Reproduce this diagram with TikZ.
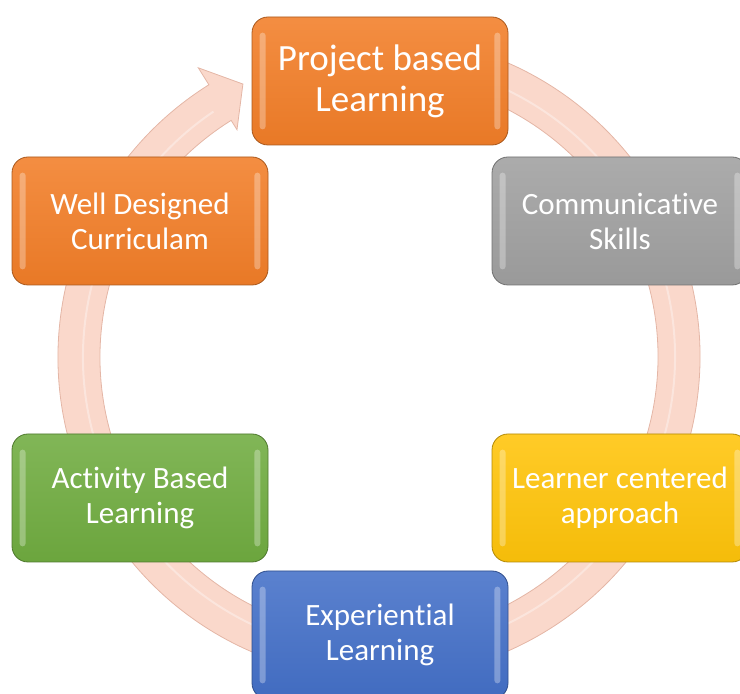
\documentclass[tikz,border=0pt]{standalone}
\usepackage{fontspec}
\setmainfont{Carlito}[Ligatures={NoCommon,NoContextual}]
\usepackage{tikz}
\usetikzlibrary{positioning}

\definecolor{pblorange}{RGB}{242,126,40}
\definecolor{commgray}{RGB}{160,160,160}
\definecolor{lcagold}{RGB}{255,196,10}
\definecolor{expblue}{RGB}{68,112,200}
\definecolor{ablgreen}{RGB}{112,172,64}
\definecolor{ringpink}{RGB}{250,216,203}
\definecolor{ringedge}{RGB}{228,182,166}

\tikzset{
  topic/.style={rectangle, rounded corners=16pt, minimum width=256pt, minimum height=128pt,
    draw=#1!70!black, line width=.8pt, top color=#1!88!white, bottom color=#1!96!black,
    text=white, align=center, inner sep=0pt, font=\fontsize{31}{35}\selectfont},
  gloss/.style={white, opacity=.3, rounded corners=3pt}
}

\begin{document}
\begin{tikzpicture}[x=1pt,y=1pt]
  \useasboundingbox (0,0) rectangle (740,694);
  \coordinate (hub) at (379,337);
  % circular arrow behind the boxes
  \begin{scope}[shift={(hub)}]
    \filldraw[fill=ringpink, draw=ringedge, line width=.8pt]
      (80:321) arc[start angle=80, end angle=-238, radius=321]
      -- (122:341) -- (116.5:305) -- (122:268) -- (122:279)
      arc[start angle=122, end angle=440, radius=279] -- cycle;
    \draw[white, opacity=.35, line width=2pt] (80:296) arc[start angle=80, end angle=-236, radius=296];
  \end{scope}

  \node[topic=pblorange, font=\fontsize{37}{41}\selectfont] (pbl) at (380,613) {Project based\\Learning};
  \node[topic=commgray] (comm) at (620,473) {Communica\kern0pt tive\\Skills};
  \node[topic=lcagold] (lca) at (620,196) {Learner centered\\approach};
  \node[topic=expblue] (exp) at (380,59) {Experien\kern0pt tial\\Learning};
  \node[topic=ablgreen] (abl) at (140,196) {Activity Based\\Learning};
  \node[topic=pblorange] (wdc) at (140,473) {Well Designed\\Curriculam};

  % glossy edges
  \foreach \n in {pbl,comm,lca,exp,abl,wdc}{
    \fill[gloss] ([xshift=8pt,yshift=-16pt]\n.north west) rectangle ([xshift=14pt,yshift=16pt]\n.south west);
    \fill[gloss] ([xshift=-14pt,yshift=-16pt]\n.north east) rectangle ([xshift=-8pt,yshift=16pt]\n.south east);
  }
\end{tikzpicture}
\end{document}
